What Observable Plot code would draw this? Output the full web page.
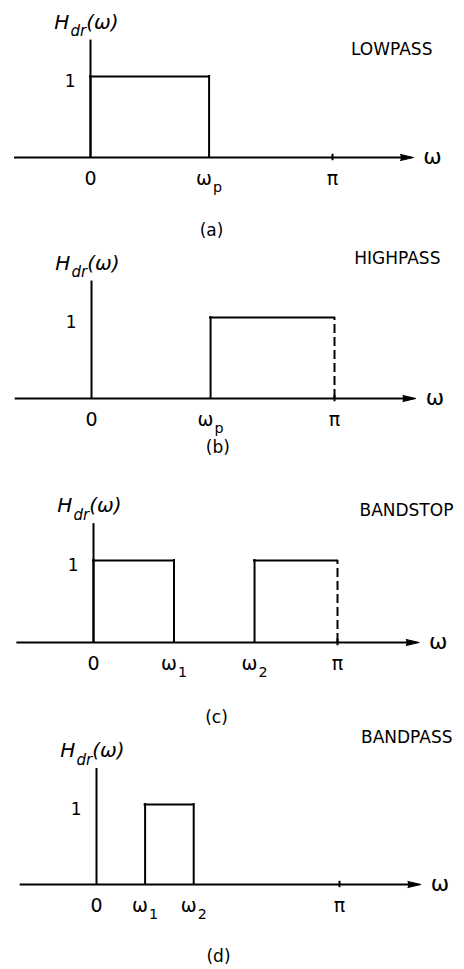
<!DOCTYPE html>
<html>
<head>
<meta charset="utf-8">
<script src="https://cdn.jsdelivr.net/npm/d3@7"></script>
<script src="https://cdn.jsdelivr.net/npm/@observablehq/plot@0.6"></script>
<style>
  html, body { margin: 0; padding: 0; background: #fff; }
  #chart svg { display: block; }
</style>
</head>
<body>
<div id="chart"></div>
<script>
const PI = Math.PI;

// One ideal frequency response per panel
const panelTags = ["(a)", "(b)", "(c)", "(d)"];
const filterNames = ["LOWPASS", "HIGHPASS", "BANDSTOP", "BANDPASS"];
const responseLabel = "H_{dr}(ω)";
const freqLabel = "ω";
const passGain = 1;

// Passbands (gain 1 inside, 0 outside), edges in units of π
const lowpassBands = [[0, 0.49]];
const highpassBands = [[0.49, 1]];
const bandstopBands = [[0, 0.33], [0.66, 1]];
const bandpassBands = [[0.20, 0.40]];

// Labelled frequencies on each ω axis, in units of π
const lowpassTickValues = [0, 0.49, 1];
const lowpassTickLabels = ["0", "ω_{p}", "π"];
const highpassTickValues = [0, 0.49, 1];
const highpassTickLabels = ["0", "ω_{p}", "π"];
const bandstopTickValues = [0, 0.33, 0.66, 1];
const bandstopTickLabels = ["0", "ω_{1}", "ω_{2}", "π"];
const bandpassTickValues = [0, 0.20, 0.40, 1];
const bandpassTickLabels = ["0", "ω_{1}", "ω_{2}", "π"];

// Drawn extent of the axes
const axisLeft = -0.314;   // × π
const axisTip = 1.335;     // × π
const axisTop = 1.45;      // gain units

const bands = [lowpassBands, highpassBands, bandstopBands, bandpassBands];
const tickValues = [lowpassTickValues, highpassTickValues, bandstopTickValues, bandpassTickValues];
const tickLabels = [lowpassTickLabels, highpassTickLabels, bandstopTickLabels, bandpassTickLabels];

// Page layout of each panel: frame size, scale ranges and label anchors
const layout = [
  {height: 240, x0: 90, xPi: 332, yBase: 157, yOne: 76, name: [1.413, 1.33], tag: [0.50, -0.90]},
  {height: 240, x0: 91, xPi: 334, yBase: 158, yOne: 77, name: [1.436, 1.73], tag: [0.52, -0.61]},
  {height: 240, x0: 93, xPi: 337, yBase: 162, yOne: 80, name: [1.475, 1.61], tag: [0.504, -0.915]},
  {height: 249, x0: 96, xPi: 339, yBase: 164, yOne: 84, name: [1.465, 1.84], tag: [0.502, -0.90]}
];

const FONT = "DejaVu Sans";

// Turn "x_{sub}" markup in text into lowered, smaller tspans
function typeset(svg) {
  d3.select(svg).selectAll("text").each(function () {
    const t = this.textContent;
    if (!t.includes("_{")) return;
    const parts = t.split(/(_\{[^}]*\})/).filter((p) => p);
    this.textContent = "";
    let lowered = false;
    for (const p of parts) {
      const ts = d3.select(this).append("tspan");
      if (p.startsWith("_{")) {
        ts.text(p.slice(2, -1)).style("font-size", "0.75em").attr("dy", "0.5em").attr("dx", "0.08em");
        lowered = true;
      } else {
        ts.text(p);
        if (lowered) { ts.attr("dy", "-0.375em"); lowered = false; }
      }
    }
  });
  return svg;
}

function panel(i) {
  const L = layout[i];
  const B = bands[i];
  const edges = B.flatMap(([lo, hi]) => [lo, hi]);
  const solidEdges = edges.filter((e) => e !== 1);
  const dashedEdges = edges.filter((e) => e === 1);
  const ticks = tickValues[i].map((v, k) => ({v, label: tickLabels[i][k]}));

  const svg = Plot.plot({
    width: 464,
    height: L.height,
    margin: 0,
    style: {fontFamily: FONT, color: "#000", background: "#fff", overflow: "visible"},
    x: {domain: [0, PI], range: [L.x0, L.xPi], axis: null},
    y: {domain: [0, 1], range: [L.yBase, L.yOne], axis: null},
    marks: [
      // axes
      Plot.ruleX([0], {y1: 0, y2: axisTop, stroke: "#000", strokeWidth: 2}),
      Plot.ruleY([0], {x1: axisLeft * PI, x2: (axisTip - 0.02) * PI, stroke: "#000", strokeWidth: 2}),
      Plot.vector([axisTip * PI], {
        x: (d) => d, y: 0, rotate: 90, length: 13, r: 3, shape: "spike",
        anchor: "end", fill: "#000", stroke: "#000", strokeWidth: 1
      }),
      Plot.ruleX([PI], {y1: -0.04, y2: 0.04, stroke: "#000", strokeWidth: 2}),
      // ideal response: passband tops and band edges
      Plot.ruleY(B, {
        x1: (d) => d[0] * PI, x2: (d) => d[1] * PI, y: passGain,
        stroke: "#000", strokeWidth: 2, strokeLinecap: "square"
      }),
      Plot.ruleX(solidEdges, {
        x: (d) => d * PI, y1: 0, y2: passGain,
        stroke: "#000", strokeWidth: 2, strokeLinecap: "square"
      }),
      Plot.ruleX(dashedEdges, {
        x: (d) => d * PI, y1: 0, y2: passGain,
        stroke: "#000", strokeWidth: 2, strokeDasharray: "9,4"
      }),
      // axis labels
      Plot.text(ticks, {
        x: (d) => d.v * PI, y: 0, text: "label", dy: 27, lineAnchor: "bottom",
        fontSize: 19, fill: "#000"
      }),
      Plot.text([passGain], {
        x: 0, y: (d) => d, text: (d) => String(d), textAnchor: "end",
        dx: -15, dy: 5, fontSize: 17, fill: "#000"
      }),
      Plot.text([freqLabel], {
        x: 1.375 * PI, y: 0, text: (d) => d, textAnchor: "start",
        dy: -1, fontSize: 22, fill: "#000"
      }),
      Plot.text([responseLabel], {
        x: 0, y: 1.59, text: (d) => d, textAnchor: "middle", lineAnchor: "bottom",
        dx: -4, fontSize: 20, fontStyle: "italic", fill: "#000"
      }),
      Plot.text([filterNames[i]], {
        x: L.name[0] * PI, y: L.name[1], text: (d) => d, textAnchor: "end",
        fontSize: 17, fill: "#000", style: "letter-spacing: 1px"
      }),
      Plot.text([panelTags[i]], {
        x: L.tag[0] * PI, y: L.tag[1], text: (d) => d, fontSize: 17, fill: "#000"
      })
    ]
  });
  return typeset(svg);
}

const chart = document.getElementById("chart");
for (let i = 0; i < filterNames.length; ++i) chart.appendChild(panel(i));
</script>
</body>
</html>
